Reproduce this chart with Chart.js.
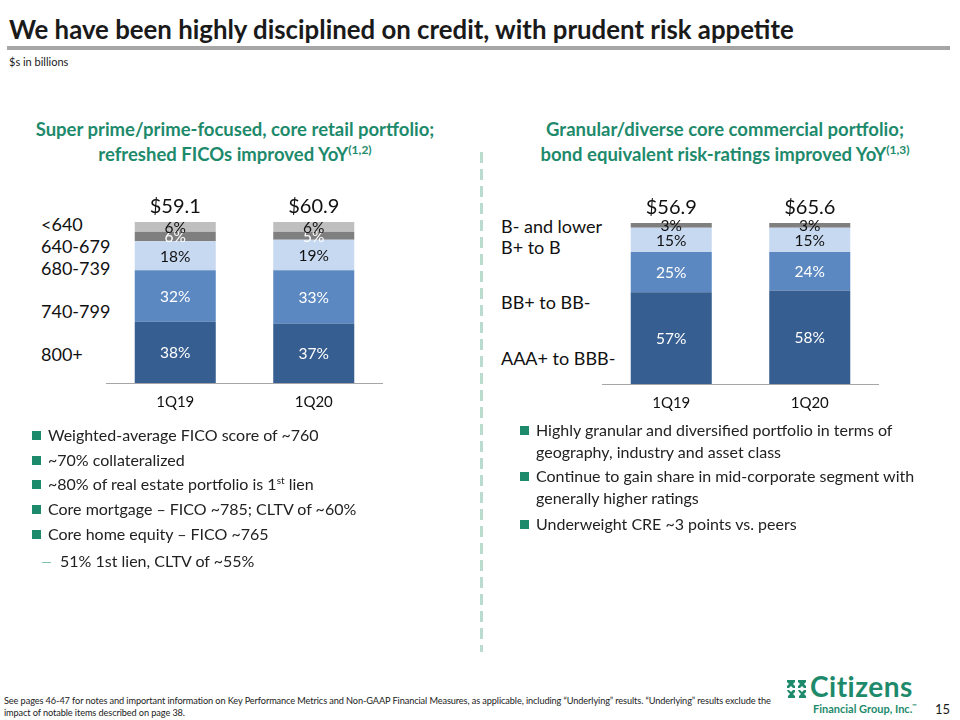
<!DOCTYPE html>
<html>
<head>
<meta charset="utf-8">
<script src="https://cdn.jsdelivr.net/npm/chart.js@4/dist/chart.umd.min.js"></script>
<style>
  html,body{margin:0;padding:0;background:#fff;}
  body{width:960px;height:720px;position:relative;overflow:hidden;font-family:Lato,"Open Sans",sans-serif;color:#1a1a1a;}
  .abs{position:absolute;white-space:nowrap;}
  #title{left:9px;top:14px;font-size:25.8px;font-weight:bold;line-height:30px;}
  #rule{left:7px;top:46px;width:943px;height:4px;background:#a6a6a6;}
  #unit{left:9px;top:55px;font-size:11px;line-height:13px;}
  .sub{font-size:18.5px;font-weight:bold;color:#1e8a6c;text-align:center;line-height:25px;}
  .sub sup{font-size:12px;line-height:0;vertical-align:7px;}
  .band{font-size:18px;color:#111;line-height:18px;}
  .bul{font-size:16px;color:#222;line-height:22px;}
  .sq{position:absolute;width:9px;height:9px;background:#1e8a6c;}
  .bul sup{font-size:10px;line-height:0;vertical-align:6px;}
  #divider{left:480px;top:152px;width:3px;height:500px;
    background:repeating-linear-gradient(to bottom,#b9dccf 0 11px,transparent 11px 17px);}
  .box{position:absolute;}
  #foot{left:4px;top:695px;font-size:9.2px;line-height:12px;color:#222;white-space:normal;width:780px;letter-spacing:-0.1px;}
  #logo1{left:810px;top:674px;font-size:28px;font-weight:bold;color:#1e8a6c;letter-spacing:0.5px;line-height:24px;}
  #logo2{left:813px;top:703px;font-size:11px;font-weight:bold;color:#1e8a6c;line-height:11px;}
  #page{left:935px;top:702px;font-size:13px;line-height:14px;}
</style>
</head>
<body>
<div id="title" class="abs">We have been highly disciplined on credit, with prudent risk appetite</div>
<div id="rule" class="abs"></div>
<div id="unit" class="abs">$s in billions</div>

<div class="abs sub" style="left:20px;top:117px;width:430px;">Super prime/prime-focused, core retail portfolio;<br>refreshed FICOs improved YoY<sup>(1,2)</sup></div>
<div class="abs sub" style="left:505px;top:117px;width:440px;">Granular/diverse core commercial portfolio;<br>bond equivalent risk-ratings improved YoY<sup>(1,3)</sup></div>

<div id="divider" class="abs"></div>

<div id="retailLabels"></div>
<div id="commLabels"></div>

<div class="box" style="left:106px;top:190px;width:277px;height:240px;"><canvas id="c1"></canvas></div>
<div class="box" style="left:602px;top:190px;width:277px;height:241px;"><canvas id="c2"></canvas></div>

<div id="leftBullets"></div>
<div id="rightBullets"></div>

<div id="foot" class="abs">See pages 46-47 for notes and important information on Key Performance Metrics and Non-GAAP Financial Measures, as applicable, including “Underlying” results. “Underlying” results exclude the impact of notable items described on page 38.</div>
<svg class="abs" style="left:786px;top:679px" width="22" height="20" viewBox="0 0 22 20">
  <g fill="#1e8a6c">
    <path d="M2 1h7v2l-2 2 2 2v2H7L5 7 3 9H1V7l2-2-2-2V1z"/>
    <path d="M13 1h7v2l-2 2 2 2v2h-2l-2-2-2 2h-2V7l2-2-2-2V1z"/>
    <path d="M1 11h2l2 2 2-2h2v2l-2 2 2 2v2H2v-2l2-2-2-2z"/>
    <path d="M12 11h2l2 2 2-2h2v2l-2 2 2 2v2h-7v-2l2-2-2-2z"/>
  </g>
</svg>
<div id="logo1" class="abs">Citizens</div>
<div id="logo2" class="abs">Financial Group, Inc.<sup style="font-size:6px;line-height:0">™</sup></div>
<div id="page" class="abs">15</div>

<script>
// ---------------- DATA ----------------
const quarters = ['1Q19', '1Q20'];

const retailBands = ['800+', '740-799', '680-739', '640-679', '<640'];
const retail800 = [38, 37];
const retail740 = [32, 33];
const retail680 = [18, 19];
const retail640 = [6, 5];
const retailSub640 = [6, 6];
const retailTotals = [59.1, 60.9];

const commBands = ['AAA+ to BBB-', 'BB+ to BB-', 'B+ to B', 'B- and lower'];
const commAAA = [57, 58];
const commBB = [25, 24];
const commB = [15, 15];
const commBminus = [3, 3];
const commTotals = [56.9, 65.6];

const leftBulletTexts = [
  'Weighted-average FICO score of ~760',
  '~70% collateralized',
  '~80% of real estate portfolio is 1<sup>st</sup> lien',
  'Core mortgage – FICO ~785; CLTV of ~60%',
  'Core home equity – FICO ~765'
];
const leftSubBullet = '51% 1st lien, CLTV of ~55%';
const rightBulletTexts = [
  'Highly granular and diversified portfolio in terms of<br>geography, industry and asset class',
  'Continue to gain share in mid-corporate segment with<br>generally higher ratings',
  'Underweight CRE ~3 points vs. peers'
];

// ---------------- STYLE ----------------
const DARK = '#375e90', MID = '#5b88c0', LIGHT = '#c6d9f1', DGRAY = '#7f7f7f', LGRAY = '#bfbfbf';

function placeLabels(id, names, left, tops) {
  const host = document.getElementById(id);
  names.forEach((n, i) => {
    const d = document.createElement('div');
    d.className = 'abs band';
    d.style.left = left + 'px';
    d.style.top = tops[i] + 'px';
    d.textContent = n;
    host.appendChild(d);
  });
}
placeLabels('retailLabels', retailBands, 41, [345, 302, 259, 237, 215]);
placeLabels('commLabels', commBands, 501, [349, 293, 238, 217]);

function placeBullets(id, texts, sqLeft, textLeft, tops) {
  const host = document.getElementById(id);
  texts.forEach((t, i) => {
    const s = document.createElement('div');
    s.className = 'sq';
    s.style.left = sqLeft + 'px';
    s.style.top = (tops[i] + 7) + 'px';
    host.appendChild(s);
    const d = document.createElement('div');
    d.className = 'abs bul';
    d.style.left = textLeft + 'px';
    d.style.top = tops[i] + 'px';
    d.innerHTML = t;
    host.appendChild(d);
  });
}
placeBullets('leftBullets', leftBulletTexts, 32, 48, [424, 449, 473, 498, 523]);
(function(){
  const host = document.getElementById('leftBullets');
  const dash = document.createElement('div');
  dash.className = 'abs';
  dash.style.cssText = 'left:42px;top:562px;width:9px;height:1px;background:#7fc2ad;';
  host.appendChild(dash);
  const d = document.createElement('div');
  d.className = 'abs bul';
  d.style.left = '60px'; d.style.top = '550px';
  d.textContent = leftSubBullet;
  host.appendChild(d);
})();
placeBullets('rightBullets', rightBulletTexts, 520, 536, [419, 465, 513]);

// ---------------- CHARTS ----------------
const valueLabels = {
  id: 'valueLabels',
  afterDatasetsDraw(chart, args, opts) {
    const ctx = chart.ctx;
    ctx.save();
    ctx.textAlign = 'center';
    ctx.textBaseline = 'middle';
    chart.data.datasets.forEach((ds, i) => {
      const meta = chart.getDatasetMeta(i);
      meta.data.forEach((bar, j) => {
        const p = bar.getProps(['x', 'y', 'base'], true);
        ctx.font = '15.5px Lato, sans-serif';
        ctx.fillStyle = ds.textColor;
        ctx.fillText(ds.data[j] + '%', p.x, (p.y + p.base) / 2 + 1);
      });
    });
    const top = chart.getDatasetMeta(chart.data.datasets.length - 1);
    ctx.font = '20px Lato, sans-serif';
    ctx.fillStyle = '#111';
    opts.totals.forEach((t, j) => {
      const p = top.data[j].getProps(['x', 'y'], true);
      ctx.fillText('$' + t.toFixed(1), p.x, chart.chartArea.top - 15);
    });
    ctx.restore();
  }
};

function makeChart(id, sets, totals, padTop) {
  return new Chart(document.getElementById(id), {
    type: 'bar',
    data: {
      labels: quarters,
      datasets: sets.map(s => ({
        label: s.label, data: s.data, backgroundColor: s.color, textColor: s.text,
        borderWidth: 0, categoryPercentage: 1.0, barPercentage: 0.585
      }))
    },
    options: {
      responsive: true, maintainAspectRatio: false, animation: false,
      layout: { padding: { top: padTop, left: 0, right: 0, bottom: 0 } },
      plugins: { legend: { display: false }, tooltip: { enabled: false }, valueLabels: { totals } },
      scales: {
        x: {
          stacked: true,
          grid: { display: false },
          border: { display: true, color: '#a6a6a6', width: 1 },
          ticks: { color: '#111', font: { size: 15, family: 'Lato, sans-serif' }, padding: 2 },
          afterFit(scale) { scale.height = 47; }
        },
        y: { stacked: true, display: false, min: 0, max: 100 }
      }
    },
    plugins: [valueLabels]
  });
}

makeChart('c1', [
  { label: retailBands[0], data: retail800, color: DARK, text: '#fff' },
  { label: retailBands[1], data: retail740, color: MID, text: '#fff' },
  { label: retailBands[2], data: retail680, color: LIGHT, text: '#111' },
  { label: retailBands[3], data: retail640, color: DGRAY, text: '#fff' },
  { label: retailBands[4], data: retailSub640, color: LGRAY, text: '#111' }
], retailTotals, 32);

makeChart('c2', [
  { label: commBands[0], data: commAAA, color: DARK, text: '#fff' },
  { label: commBands[1], data: commBB, color: MID, text: '#fff' },
  { label: commBands[2], data: commB, color: LIGHT, text: '#111' },
  { label: commBands[3], data: commBminus, color: DGRAY, text: '#111' }
], commTotals, 33);
</script>
</body>
</html>
